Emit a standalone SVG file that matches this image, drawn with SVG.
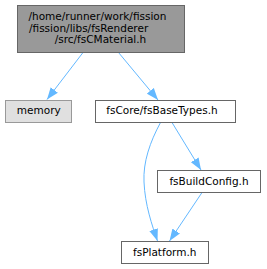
<svg xmlns="http://www.w3.org/2000/svg" width="267" height="269" viewBox="0 0 267 269">
<defs>
<style>
text{font-family:"DejaVu Sans",sans-serif;font-size:10.5px;fill:#000;text-anchor:middle}
.n{fill:#fff;stroke:#666;stroke-width:1}
.e{fill:none;stroke:#63b8ff;stroke-width:1}
</style>
<marker id="ah" viewBox="0 0 12 10" refX="12" refY="5" markerWidth="12" markerHeight="10" markerUnits="userSpaceOnUse" orient="auto">
<path d="M0,0.5 L12,5 L0,9.5 Z" fill="#63b8ff"/>
</marker>
</defs>
<rect width="267" height="269" fill="#fff"/>
<g id="edges">
<path class="e" d="M83,52.5 L47,99.5" marker-end="url(#ah)"/>
<path class="e" d="M118.5,52.5 L158,100" marker-end="url(#ah)"/>
<path class="e" d="M160.5,122.5 C150,142 143,162 144,182 C145,205 152,225 157.5,241" marker-end="url(#ah)"/>
<path class="e" d="M172,122.5 L201,170" marker-end="url(#ah)"/>
<path class="e" d="M202,192.5 L169.5,241" marker-end="url(#ah)"/>
</g>
<g id="node1">
<rect x="17.5" y="5.5" width="167" height="47" fill="#999" stroke="#666"/>
<text x="28.5" y="20" style="text-anchor:start">/home/runner/work/fission</text>
<text x="29" y="31.5" style="text-anchor:start">/fission/libs/fsRenderer</text>
<text x="100.5" y="43">/src/fsCMaterial.h</text>
</g>
<g id="node2">
<rect x="5.5" y="100.5" width="66" height="22" fill="#e0e0e0" stroke="#999"/>
<text x="38.8" y="114">memory</text>
</g>
<g id="node3">
<rect class="n" x="95.5" y="100.5" width="140" height="22"/>
<text x="162" y="114">fsCore/fsBaseTypes.h</text>
</g>
<g id="node4">
<rect class="n" x="157.5" y="170.5" width="103" height="22"/>
<text x="209" y="184.5">fsBuildConfig.h</text>
</g>
<g id="node5">
<rect class="n" x="121.5" y="241.5" width="87" height="22"/>
<text x="164.7" y="255.5">fsPlatform.h</text>
</g>
</svg>
